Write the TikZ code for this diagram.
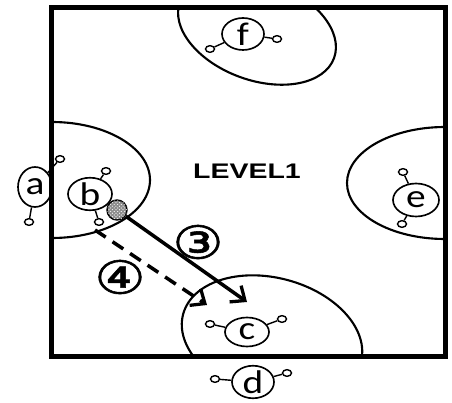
\documentclass[tikz,border=0pt]{standalone}
\usepackage{fontspec}
\usetikzlibrary{shapes.geometric,arrows.meta,patterns}
\newfontfamily\plfont[FakeStretch=1.2]{Carlito}
\newfontfamily\lvfont[FakeStretch=1.35]{Liberation Sans}
\newfontfamily\numfont[FakeStretch=1.25,FakeBold=1.2]{DejaVu Sans}
\begin{document}
\begin{tikzpicture}
    [x=0.03cm,y=-0.03cm,
    player/.style={draw,ellipse,line width=1.4pt,inner sep=0pt,minimum width=1.32cm,minimum height=0.87cm,font=\plfont\fontsize{28}{28}\selectfont},
    hand/.style={draw,ellipse,line width=1.2pt,inner sep=0pt,minimum width=0.27cm,minimum height=0.2cm},
    arm/.style={line width=1.2pt},
    zone/.style={line width=1.8pt},
    tag/.style={font=\numfont\fontsize{39}{39}\selectfont},
    pass/.style={line width=3pt,-{Straight Barb[length=10pt,width=17pt,line width=2.8pt]}}]
    \useasboundingbox (0,0) rectangle (452,403);
    %zones
    \begin{scope}
    \clip (51.5,7.5) rectangle (445.5,356.5);
    \draw[zone] (52,180) ellipse [x radius=98,y radius=58];
    \draw[zone] (445,183) ellipse [x radius=98,y radius=56];
    \draw[zone,rotate around={-20:(257,30)}] (257,30) ellipse [x radius=82,y radius=50];
    \draw[zone,rotate around={-15:(272,338)}] (272,338) ellipse [x radius=92,y radius=60];
    \end{scope}
    %players
    \node[player,minimum width=1.02cm,minimum height=1.2cm] (a) at (35,187) {a};
    \node[hand] (a1) at (60,159) {};
    \node[hand] (a2) at (29,222) {};
    \draw[arm] (a) -- (a1);
    \draw[arm] (a) -- (a2);
    \node[player] (b) at (90,194) {b};
    \node[hand] (b1) at (106,171) {};
    \node[hand] (b2) at (99,222) {};
    \draw[arm] (b) -- (b1);
    \draw[arm] (b) -- (b2);
    \node[player] (c) at (247,332) {c};
    \node[hand] (c1) at (210,324) {};
    \node[hand] (c2) at (282,319) {};
    \draw[arm] (c) -- (c1);
    \draw[arm] (c) -- (c2);
    \node[player,minimum width=1.26cm] (d) at (253,382) {d};
    \node[hand] (d1) at (215,379) {};
    \node[hand] (d2) at (287,373) {};
    \draw[arm] (d) -- (d1);
    \draw[arm] (d) -- (d2);
    \node[player,minimum width=1.38cm,minimum height=0.99cm] (e) at (416,200) {e};
    \node[hand] (e1) at (403,172) {};
    \node[hand] (e2) at (402,224) {};
    \draw[arm] (e) -- (e1);
    \draw[arm] (e) -- (e2);
    \node[player,minimum width=1.26cm,minimum height=0.96cm] (f) at (243,34) {f};
    \node[hand] (f1) at (210,49) {};
    \node[hand] (f2) at (277,39) {};
    \draw[arm] (f) -- (f1);
    \draw[arm] (f) -- (f2);
    %field
    \draw[line width=5pt] (51.5,7.5) rectangle (445.5,356.5);
    \node[font=\lvfont\bfseries\fontsize{18}{18}\selectfont] (level) at (247,171) {LEVEL1};
    %ball
    \node[circle,draw,line width=1.2pt,minimum size=0.6cm,inner sep=0pt,fill=gray!90,
      postaction={pattern=crosshatch dots,pattern color=white}] (ball) at (117,210) {};
    %passes
    \coordinate (p3) at (247,302);
    \coordinate (s4) at (95,230);
    \coordinate (p4) at (207,305);
    \draw[pass] (ball) -- (p3);
    \draw[pass,dash pattern=on 11pt off 7pt] (s4) -- (p4);
    \node[tag] (n3) at (198,242) {③};
    \node[tag] (n4) at (120,277) {④};
\end{tikzpicture}
\end{document}
